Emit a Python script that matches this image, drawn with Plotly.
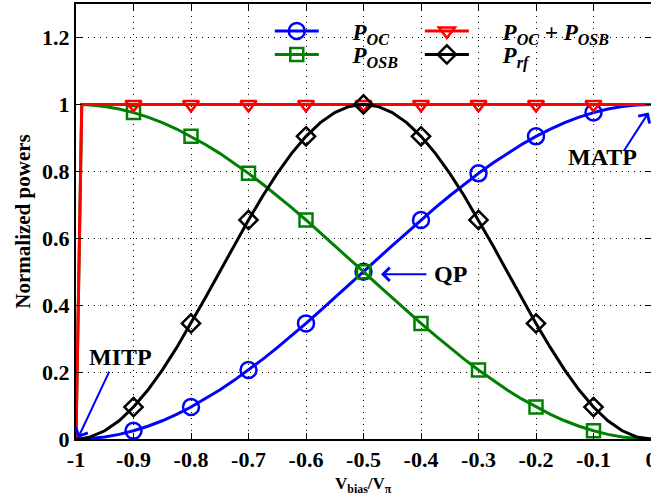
import plotly.graph_objects as go

# ---------------- data ----------------
X_LINE = [-1, -0.99, -0.975, -0.95, -0.925, -0.9, -0.875, -0.85, -0.825, -0.8, -0.775,
          -0.75, -0.725, -0.7, -0.675, -0.65, -0.625, -0.6, -0.575, -0.55, -0.525,
          -0.5, -0.475, -0.45, -0.425, -0.4, -0.375, -0.35, -0.325, -0.3, -0.275,
          -0.25, -0.225, -0.2, -0.175, -0.15, -0.125, -0.1, -0.075, -0.05, -0.025, 0]

P_OC = [0, 0.0002, 0.0015, 0.0062, 0.0138, 0.0245, 0.0381, 0.0545, 0.0737, 0.0955, 0.1198,
        0.1464, 0.1753, 0.2061, 0.2388, 0.2730, 0.3087, 0.3455, 0.3835, 0.4218, 0.4608,
        0.5, 0.5392, 0.5782, 0.6165, 0.6545, 0.6913, 0.7270, 0.7612, 0.7939, 0.8247,
        0.8536, 0.8802, 0.9045, 0.9263, 0.9455, 0.9619, 0.9755, 0.9862, 0.9938, 0.9985, 1.0]

P_OSB = [0, 0.9998, 0.9985, 0.9938, 0.9862, 0.9755, 0.9619, 0.9455, 0.9263, 0.9045, 0.8802,
         0.8536, 0.8247, 0.7939, 0.7612, 0.7270, 0.6913, 0.6545, 0.6165, 0.5782, 0.5392,
         0.5, 0.4608, 0.4218, 0.3835, 0.3455, 0.3087, 0.2730, 0.2388, 0.2061, 0.1753,
         0.1464, 0.1198, 0.0955, 0.0737, 0.0545, 0.0381, 0.0245, 0.0138, 0.0062, 0.0015, 0.0]

P_SUM = [0] + [1.0] * 41

P_RF = [0, 0.0010, 0.0062, 0.0245, 0.0545, 0.0955, 0.1464, 0.2061, 0.2730, 0.3455, 0.4218,
        0.5, 0.5782, 0.6545, 0.7270, 0.7939, 0.8536, 0.9045, 0.9455, 0.9755, 0.9938,
        1.0, 0.9938, 0.9755, 0.9455, 0.9045, 0.8536, 0.7939, 0.7270, 0.6545, 0.5782,
        0.5, 0.4218, 0.3455, 0.2730, 0.2061, 0.1464, 0.0955, 0.0545, 0.0245, 0.0062, 0.0]

X_MARK = [-0.9, -0.8, -0.7, -0.6, -0.5, -0.4, -0.3, -0.2, -0.1]

X_TICKS = [-1, -0.9, -0.8, -0.7, -0.6, -0.5, -0.4, -0.3, -0.2, -0.1, 0]
X_TICK_TEXT = ["-1", "-0.9", "-0.8", "-0.7", "-0.6", "-0.5", "-0.4", "-0.3", "-0.2", "-0.1", "0"]
Y_TICKS = [0, 0.2, 0.4, 0.6, 0.8, 1.0, 1.2]
Y_TICK_TEXT = ["0", "0.2", "0.4", "0.6", "0.8", "1", "1.2"]

PAD = "\u2003&nbsp;"
# name, values, colour, symbol, size, legend id
SERIES = [
    (PAD + "<b><i>P<sub>OC</sub></i></b>", P_OC, "#0000FF", "circle-open", 16, "legend"),
    (PAD + "<b><i>P<sub>OSB</sub></i></b>", P_OSB, "#008000", "square-open", 13, "legend2"),
    (PAD + "<b><i>P<sub>OC</sub> + P<sub>OSB</sub></i></b>", P_SUM, "#FF0000", "triangle-down-open", 14, "legend3"),
    (PAD + "<b><i>P<sub>rf</sub></i></b>", P_RF, "#000000", "diamond-open", 14, "legend4"),
]

FONT = "Liberation Serif, Times New Roman, serif"

fig = go.Figure()

idx = [min(range(len(X_LINE)), key=lambda i: abs(X_LINE[i] - xm)) for xm in X_MARK]

for name, vals, col, sym, size, leg in SERIES:
    fig.add_trace(go.Scatter(x=X_LINE, y=vals, mode="lines",
                             line=dict(color=col, width=3), showlegend=False, hoverinfo="skip"))
    fig.add_trace(go.Scatter(x=X_MARK, y=[vals[i] for i in idx], mode="markers",
                             marker=dict(symbol=sym, size=size, color=col, line=dict(width=2.5, color=col)),
                             showlegend=False))
    fig.add_trace(go.Scatter(x=[None], y=[None], mode="lines+markers", name=name,
                             line=dict(color=col, width=3),
                             marker=dict(symbol=sym, size=size, color=col, line=dict(width=2.5, color=col)),
                             legend=leg))

axis_common = dict(
    showline=True, linecolor="black", linewidth=2, mirror="ticks",
    ticks="inside", ticklen=6, tickwidth=1, tickcolor="black",
    showgrid=True, gridcolor="black", griddash="1px,5px", gridwidth=1,
    zeroline=False, automargin=False,
    tickfont=dict(family=FONT, size=22, color="black", weight="bold"),
)

fig.update_xaxes(range=[-1, 0], tickmode="array", tickvals=X_TICKS, ticktext=X_TICK_TEXT,
                 ticklabeloverflow="allow", **axis_common)
fig.update_yaxes(range=[0, 1.3], tickmode="array", tickvals=Y_TICKS, ticktext=Y_TICK_TEXT,
                 title=dict(text="Normalized powers",
                            font=dict(family=FONT, size=21, color="black", weight="bold"), standoff=6),
                 **axis_common)

legend_common = dict(bgcolor="rgba(0,0,0,0)", borderwidth=0, yanchor="middle", xanchor="left",
                     font=dict(family=FONT, size=23, color="black"), itemwidth=44)

# annotations: (text, text_x, text_y, head_x, head_y, tail_x, tail_y)
ANNOT = [
    ("MITP", -0.923, 0.245, -0.9965, 0.003, -0.941, 0.206),
    ("QP", -0.348, 0.4925, -0.4696, 0.4925, -0.388, 0.4925),
    ("MATP", -0.0852, 0.842, -0.004, 0.976, -0.0487, 0.857),
]
annotations = []
for txt, tx, ty, hx, hy, sx, sy in ANNOT:
    annotations.append(dict(x=tx, y=ty, xref="x", yref="y", text=f"<b>{txt}</b>", showarrow=False,
                            font=dict(family=FONT, size=24, color="black")))
    annotations.append(dict(x=hx, y=hy, ax=sx, ay=sy, xref="x", yref="y", axref="x", ayref="y",
                            text="", showarrow=True, arrowhead=4, arrowsize=1.3, arrowwidth=2,
                            arrowcolor="#0000FF"))

# x-axis title
annotations.append(dict(x=0.5, y=-0.106, xref="paper", yref="paper", yanchor="middle",
                        text="<b>V<sub>bias</sub>/V<sub>π</sub></b>", showarrow=False,
                        font=dict(family=FONT, size=17, color="black")))

fig.update_layout(
    width=651, height=495,
    margin=dict(l=76, r=0, t=4, b=56),
    plot_bgcolor="white", paper_bgcolor="white",
    legend=dict(x=0.337, y=0.938, **legend_common),
    legend2=dict(x=0.337, y=0.884, **legend_common),
    legend3=dict(x=0.598, y=0.938, **legend_common),
    legend4=dict(x=0.598, y=0.884, **legend_common),
    annotations=annotations,
    shapes=[dict(type="rect", xref="paper", yref="paper", x0=0.342, x1=0.987, y0=0.84, y1=0.975,
                 fillcolor="white", line=dict(width=0), layer="between")],
    showlegend=True,
)

fig.write_html("out.html")
